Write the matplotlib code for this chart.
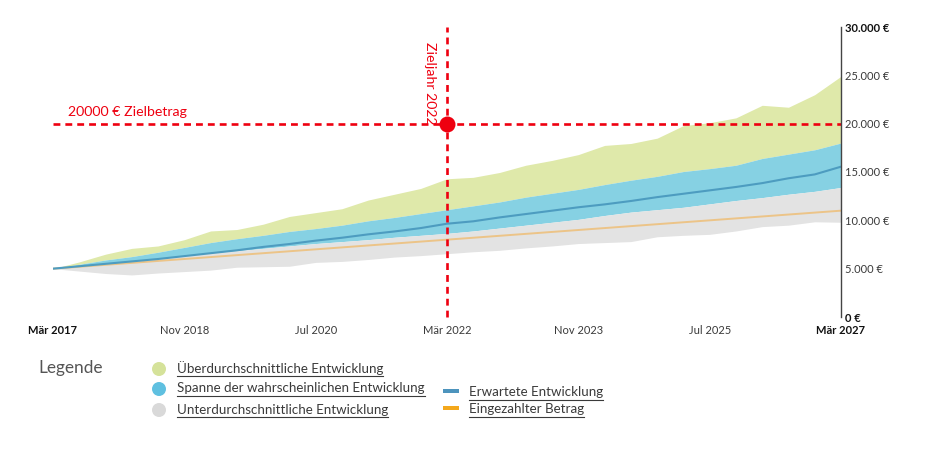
import matplotlib
matplotlib.use('Agg')
import matplotlib.pyplot as plt
from matplotlib.lines import Line2D
from matplotlib.patches import Ellipse, Rectangle

plt.rcParams['font.family'] = ['Lato', 'DejaVu Sans']

months = [0, 4, 8, 12, 16, 20, 24, 28, 32, 36, 40, 44, 48, 52, 56, 60,
          64, 68, 72, 76, 80, 84, 88, 92, 96, 100, 104, 108, 112, 116, 120]
upper = [5000, 5700, 6500, 7100, 7350, 8000, 8900, 9050, 9600, 10400, 10800,
         11200, 12100, 12700, 13300, 14300, 14450, 14950, 15700, 16200, 16800,
         17750, 17950, 18500, 19800, 20100, 20600, 21900, 21700, 23000, 24900]
likely_top = [5000, 5450, 5900, 6250, 6700, 7200, 7700, 8100, 8450, 8850, 9150,
              9500, 9950, 10300, 10700, 11100, 11500, 11900, 12400, 12800, 13200,
              13700, 14150, 14550, 15050, 15350, 15700, 16400, 16850, 17300, 18000]
likely_bottom = [5000, 5250, 5550, 5800, 6050, 6350, 6600, 6850, 7100, 7350, 7600,
                 7800, 8000, 8250, 8450, 8650, 8900, 9200, 9500, 9800, 10100,
                 10500, 10850, 11100, 11350, 11700, 12050, 12350, 12700, 13000, 13400]
lower = [5000, 4750, 4500, 4350, 4550, 4700, 4850, 5150, 5200, 5250, 5650,
         5750, 5950, 6200, 6350, 6550, 6750, 6900, 7150, 7350, 7600,
         7700, 7800, 8300, 8450, 8550, 8900, 9350, 9500, 9850, 9800]
expected = [5000, 5250, 5500, 5750, 6000, 6300, 6600, 6900, 7250, 7550, 7900,
            8200, 8550, 8850, 9200, 9650, 9900, 10300, 10650, 11000, 11350,
            11650, 12000, 12400, 12750, 13100, 13450, 13850, 14350, 14750, 15550]
deposits = [5000, 5200, 5400, 5600, 5800, 6000, 6200, 6400, 6600, 6800, 7000,
            7200, 7400, 7600, 7800, 8000, 8200, 8400, 8600, 8800, 9000,
            9200, 9400, 9600, 9800, 10000, 10200, 10400, 10600, 10800, 11000]

x_ticks = [0, 20, 40, 60, 80, 100, 120]
x_labels = ['Mär 2017', 'Nov 2018', 'Jul 2020', 'Mär 2022', 'Nov 2023', 'Jul 2025', 'Mär 2027']
y_ticks = [0, 5000, 10000, 15000, 20000, 25000, 30000]
y_labels = ['0 €', '5.000 €', '10.000 €', '15.000 €', '20.000 €', '25.000 €', '30.000 €']
target_amount = 20000
target_month = 60

W, H = 934, 453
fig = plt.figure(figsize=(W / 100, H / 100), dpi=100)
ax = fig.add_axes([53 / W, 1 - 317 / H, 788 / W, 290 / H])
ax.set_xlim(0, 120)
ax.set_ylim(0, 30000)

green = '#dfe9aa'
blue = '#86d1e3'
grey = '#e3e3e3'
text_col = '#3a3a3a'
red = '#ee0010'

ax.fill_between(months, likely_top, upper, color=green, lw=0)
ax.fill_between(months, likely_bottom, likely_top, color=blue, lw=0)
ax.fill_between(months, lower, likely_bottom, color=grey, lw=0)
ax.plot(months, deposits, color='#ecc488', lw=1.4)
ax.plot(months, expected, color='#4d9cc0', lw=1.5)

dash = (0, (2.6, 1.9))
ax.plot([0, 120], [target_amount, target_amount], color=red, lw=1.9, ls=dash, clip_on=False)
ax.plot([target_month, target_month], [0, 30000], color=red, lw=1.9, ls=dash, clip_on=False)
ax.plot([target_month], [target_amount], 'o', color=red, ms=11.5, mew=0, zorder=5)

ax.text(2.3, 20550, '20000 € Zielbetrag', color=red, fontsize=10.2, va='bottom', ha='left')
ax.text(57.4, 19900, 'Zieljahr 2022', color=red, fontsize=10.2, rotation=-90, va='bottom', ha='center')

for side in ['top', 'left', 'bottom']:
    ax.spines[side].set_visible(False)
ax.spines['right'].set_color('#444444')
ax.spines['right'].set_linewidth(1)
ax.yaxis.tick_right()
ax.set_xticks(x_ticks, x_labels)
ax.set_yticks(y_ticks, y_labels)
ax.tick_params(axis='both', length=0, labelsize=8, labelcolor=text_col)
ax.tick_params(axis='x', pad=5.5)
ax.tick_params(axis='y', pad=3)
for lab in [ax.get_xticklabels()[0], ax.get_xticklabels()[-1], ax.get_yticklabels()[0], ax.get_yticklabels()[-1]]:
    lab.set_fontweight('bold')
    lab.set_color('#111111')

# legend, placed by hand in pixels
def fx(px):
    return px / W

def fy(py):
    return 1 - py / H

fig.text(fx(38), fy(368), 'Legende', fontsize=12.4, color='#555555', va='center')

renderer = fig.canvas.get_renderer()

def legend_text(px, py, label):
    t = fig.text(fx(px), fy(py), label, fontsize=9.6, color=text_col, va='center')
    bb = t.get_window_extent(renderer)
    fig.add_artist(Line2D([fx(px), bb.x1 / W], [fy(py + 7.5), fy(py + 7.5)], color=text_col, lw=0.8))

circles = [(159, 369, '#d5e29a'), (159, 389, '#5fc0e0'), (159, 410, '#d9d9d9')]
circle_labels = ['Überdurchschnittliche Entwicklung', 'Spanne der wahrscheinlichen Entwicklung',
                 'Unterdurchschnittliche Entwicklung']
for (cx, cy, col), label in zip(circles, circle_labels):
    fig.add_artist(Ellipse((fx(cx), fy(cy)), 14 / W, 14 / H, color=col, lw=0, transform=fig.transFigure))
    legend_text(177, cy - 0.5, label)

bars = [(391, '#4d94bd'), (408, '#f4a81c')]
bar_labels = ['Erwartete Entwicklung', 'Eingezahlter Betrag']
for (by, col), label in zip(bars, bar_labels):
    fig.add_artist(Rectangle((fx(443), fy(by + 2)), 16 / W, 4 / H, color=col, lw=0, transform=fig.transFigure))
    legend_text(469, by + 1, label)

fig.savefig('out.png', dpi=100)
